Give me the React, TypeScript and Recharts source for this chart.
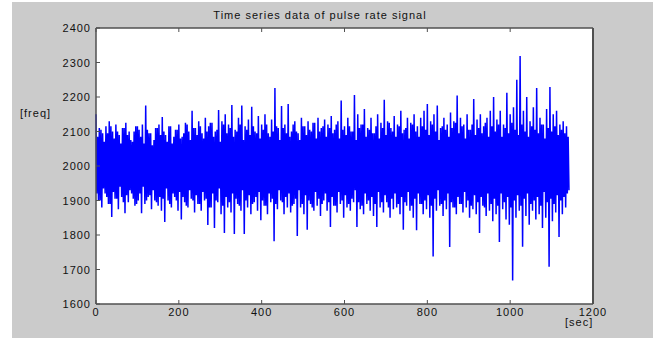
import React from 'react';
import { LineChart, Line, XAxis, YAxis, CartesianGrid } from 'recharts';

// sampled pulse-rate signal read off the plot: per 8 s window a peak, an inner low,
// an inner high and a trough (one sample every 2 s)
const SAMPLE_STEP = 2; // sec between samples
const peaks = [
  2150, 2110, 2095, 2115, 2130, 2100, 2120, 2090, 2110, 2125,
  2100, 2070, 2115, 2105, 2120, 2175, 2095, 2060, 2110, 2120,
  2142, 2090, 2115, 2065, 2105, 2120, 2085, 2125, 2100, 2160,
  2110, 2130, 2095, 2140, 2115, 2125, 2100, 2162, 2130, 2150,
  2120, 2177, 2105, 2140, 2175, 2115, 2135, 2172, 2100, 2145,
  2120, 2150, 2095, 2135, 2226, 2110, 2174, 2120, 2180, 2100,
  2130, 2095, 2140, 2115, 2130, 2100, 2125, 2140, 2110, 2135,
  2120, 2145, 2105, 2130, 2190, 2115, 2140, 2100, 2206, 2150,
  2120, 2165, 2110, 2140, 2095, 2150, 2125, 2192, 2130, 2110,
  2145, 2120, 2160, 2105, 2140, 2125, 2150, 2115, 2140, 2160,
  2180, 2130, 2150, 2175, 2110, 2140, 2120, 2155, 2130, 2204,
  2140, 2120, 2150, 2105, 2194, 2135, 2150, 2115, 2140, 2160,
  2200, 2135, 2160, 2120, 2212, 2150, 2170, 2250, 2319, 2160,
  2200, 2130, 2170, 2226, 2140, 2120, 2165, 2229, 2150, 2160,
  2120, 2130, 2115,
];
const innerLows = [
  1920, 1900, 1935, 1910, 1890, 1925, 1905, 1940, 1895, 1915,
  1930, 1905, 1890, 1920, 1940, 1900, 1915, 1930, 1895, 1910,
  1905, 1935, 1890, 1920, 1900, 1925, 1910, 1885, 1930, 1900,
  1915, 1890, 1925, 1905, 1880, 1920, 1900, 1935, 1885, 1910,
  1895, 1920, 1905, 1885, 1930, 1900, 1915, 1890, 1910, 1925,
  1900, 1885, 1920, 1905, 1890, 1930, 1895, 1910, 1920, 1885,
  1905, 1930, 1890, 1915, 1900, 1880, 1925, 1905, 1890, 1920,
  1895, 1910, 1885, 1925, 1900, 1915, 1890, 1905, 1930, 1895,
  1885, 1920, 1900, 1910, 1890, 1925, 1895, 1915, 1880, 1905,
  1920, 1890, 1910, 1895, 1925, 1885, 1905, 1920, 1890, 1900,
  1915, 1885, 1905, 1930, 1890, 1900, 1920, 1895, 1880, 1910,
  1890, 1925, 1900, 1885, 1915, 1895, 1910, 1880, 1920, 1890,
  1905, 1885, 1920, 1895, 1910, 1880, 1900, 1915, 1885, 1905,
  1920, 1890, 1900, 1910, 1885, 1925, 1895, 1905, 1890, 1915,
  1900, 1910, 1920,
];
const innerHighs = [
  2085, 2105, 2070, 2095, 2115, 2080, 2100, 2065, 2110, 2090,
  2075, 2100, 2115, 2085, 2065, 2105, 2095, 2075, 2110, 2090,
  2100, 2070, 2115, 2085, 2105, 2080, 2095, 2120, 2075, 2110,
  2090, 2115, 2080, 2100, 2125, 2085, 2105, 2070, 2120, 2095,
  2110, 2085, 2100, 2120, 2075, 2105, 2090, 2115, 2095, 2080,
  2105, 2120, 2085, 2100, 2115, 2075, 2110, 2095, 2085, 2120,
  2100, 2075, 2115, 2090, 2105, 2125, 2080, 2100, 2115, 2085,
  2110, 2095, 2120, 2080, 2105, 2090, 2115, 2100, 2075, 2110,
  2120, 2085, 2105, 2095, 2115, 2080, 2110, 2090, 2125, 2100,
  2085, 2115, 2095, 2110, 2080, 2120, 2100, 2085, 2115, 2105,
  2090, 2120, 2100, 2075, 2115, 2105, 2085, 2110, 2125, 2095,
  2115, 2080, 2105, 2120, 2090, 2110, 2095, 2125, 2085, 2115,
  2100, 2120, 2085, 2110, 2095, 2125, 2105, 2090, 2120, 2100,
  2085, 2115, 2105, 2095, 2120, 2080, 2110, 2100, 2115, 2090,
  2105, 2095, 2085,
];
const troughs = [
  1900, 1880, 1920, 1890, 1852, 1905, 1875, 1910, 1863, 1895,
  1920, 1885, 1900, 1863, 1890, 1910, 1875, 1900, 1885, 1870,
  1838, 1900, 1880, 1910, 1870, 1845, 1895, 1880, 1905, 1865,
  1890, 1870, 1900, 1829, 1880, 1820, 1895, 1860, 1806, 1880,
  1865, 1803, 1890, 1870, 1803, 1880, 1860, 1895, 1870, 1843,
  1885, 1860, 1895, 1782, 1875, 1900, 1860, 1880, 1865, 1890,
  1797, 1880, 1860, 1815, 1890, 1870, 1885, 1855, 1900, 1870,
  1823, 1885, 1865, 1890, 1850, 1880, 1870, 1895, 1823, 1875,
  1860, 1890, 1870, 1855, 1823, 1880, 1865, 1895, 1850, 1875,
  1880, 1860, 1815, 1885, 1870, 1850, 1814, 1890, 1860, 1875,
  1850, 1738, 1870, 1885, 1855, 1875, 1765, 1880, 1860, 1890,
  1865, 1880, 1850, 1875, 1860, 1806, 1885, 1855, 1870, 1840,
  1860, 1780, 1875, 1845, 1830, 1668, 1850, 1870, 1766, 1855,
  1830, 1870, 1845, 1860, 1820, 1850, 1708, 1840, 1865, 1794,
  1860, 1880, 1930,
];
const xTicks = [0, 200, 400, 600, 800, 1000, 1200];
const yTicks = [1600, 1700, 1800, 1900, 2000, 2100, 2200, 2300, 2400];

const data: { t: number; v: number }[] = [];
peaks.forEach((p, i) => {
  const t0 = i * 4 * SAMPLE_STEP;
  data.push({ t: t0, v: p });
  data.push({ t: t0 + SAMPLE_STEP, v: innerLows[i] });
  data.push({ t: t0 + 2 * SAMPLE_STEP, v: innerHighs[i] });
  data.push({ t: t0 + 3 * SAMPLE_STEP, v: troughs[i] });
});

const font = { fontFamily: 'Arial, "Liberation Sans", sans-serif', fontSize: 11, letterSpacing: 1, fill: '#111' };
const frame = '#505050';

const BottomTick = ({ x, y, payload }: any) => (
  <g>
    <line x1={x} x2={x} y1={y} y2={y - 4} stroke={frame} />
    <text x={x} y={y + 12} textAnchor="middle" style={font}>{payload.value}</text>
  </g>
);
const LeftTick = ({ x, y, payload }: any) => (
  <g>
    <line x1={x} x2={x + 4} y1={y} y2={y} stroke={frame} />
    <text x={x - 5} y={y + 4} textAnchor="end" style={font}>{payload.value}</text>
  </g>
);
const TopTick = ({ x, y }: any) => <line x1={x} x2={x} y1={y} y2={y + 4} stroke={frame} />;
const RightTick = ({ x, y }: any) => <line x1={x} x2={x - 4} y1={y} y2={y} stroke={frame} />;

export default function App() {
  const label: React.CSSProperties = { position: 'absolute', fontFamily: 'Arial, "Liberation Sans", sans-serif', fontSize: 11, letterSpacing: 1, color: '#111', lineHeight: '12px', whiteSpace: 'nowrap' };
  return (
    <div style={{ position: 'absolute', left: 0, top: 0, width: 656, height: 339, background: '#fff' }}>
      <div style={{ position: 'absolute', left: 12, top: 2, width: 641, height: 336, background: '#cbcbcb' }} />
      <div style={{ ...label, left: 0, width: 640, top: 9, textAlign: 'center' }}>Time series data of pulse rate signal</div>
      <div style={{ ...label, left: 20, top: 107 }}>[freq]</div>
      <div style={{ ...label, left: 565, top: 316 }}>[sec]</div>
      <div style={{ position: 'absolute', left: 0, top: 0 }}>
        <LineChart width={656} height={339} data={data} margin={{ top: 27, right: 62, bottom: 0, left: 0 }}>
          <CartesianGrid fill="#fff" horizontal={false} vertical={false} />
          <XAxis dataKey="t" type="number" domain={[0, 1200]} ticks={xTicks} interval={0} height={35}
            tickSize={0} tickMargin={0} tickLine={false} tick={BottomTick}
            axisLine={{ stroke: frame, strokeWidth: 1.5 }} />
          <XAxis xAxisId="top" orientation="top" dataKey="t" type="number" domain={[0, 1200]} ticks={xTicks} interval={0}
            height={1} tickSize={0} tickMargin={0} tickLine={false} tick={TopTick}
            axisLine={{ stroke: frame, strokeWidth: 1.5 }} />
          <YAxis type="number" domain={[1600, 2400]} ticks={yTicks} interval={0} width={96}
            tickSize={0} tickMargin={0} tickLine={false} tick={LeftTick}
            axisLine={{ stroke: frame, strokeWidth: 1.5 }} />
          <YAxis yAxisId="right" orientation="right" type="number" domain={[1600, 2400]} ticks={yTicks} interval={0} width={1}
            tickSize={0} tickMargin={0} tickLine={false} tick={RightTick}
            axisLine={{ stroke: frame, strokeWidth: 2 }} />
          <Line dataKey="v" stroke="#0000ff" strokeWidth={1.5} dot={false} isAnimationActive={false} type="linear" />
        </LineChart>
      </div>
    </div>
  );
}
